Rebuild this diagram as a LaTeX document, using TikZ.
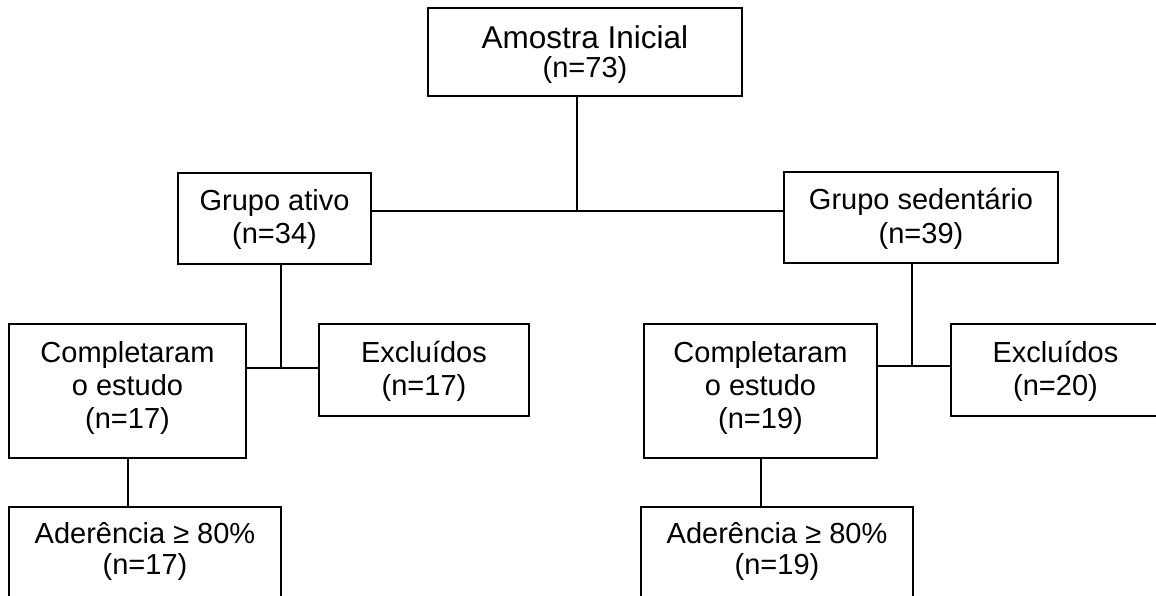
\documentclass[tikz,border=0pt]{standalone}
\usepackage{fontspec}
\setmainfont{Liberation Sans}

% caixa de texto alinhada em cima: largura, altura, texto
\newcommand{\caixatexto}[3]{\parbox[c][#2][t]{#1}{\centering\rule{0pt}{38pt}#3}}

\begin{document}
\begin{tikzpicture}[
  x=1pt, y=-1pt,
  font=\fontsize{29}{33}\selectfont,
  caixa/.style={draw, line width=2pt, inner sep=0pt, anchor=north west},
  liga/.style={line width=2pt}
]
\useasboundingbox (0,0) rectangle (1156,596);

\node[caixa] (amostra) at (427,7) {\parbox[c][88pt][t]{314pt}{\centering\fontsize{31.5}{29}\selectfont\rule{0pt}{41pt}Amostra Inicial\\\fontsize{29}{29}\selectfont(n=73)}};
\node[caixa] (ativo) at (177,172) {\caixatexto{193pt}{91pt}{Grupo ativo\\(n=34)}};
\node[caixa] (sedentario) at (783,171) {\caixatexto{274pt}{91pt}{Grupo sedentário\\(n=39)}};
\node[caixa] (complA) at (8,323) {\caixatexto{237pt}{134pt}{Completaram\\o estudo\\(n=17)}};
\node[caixa] (exclA) at (318,323) {\caixatexto{210pt}{92pt}{Excluídos\\(n=17)}};
\node[caixa] (complS) at (643,323) {\caixatexto{233pt}{134pt}{Completaram\\o estudo\\(n=19)}};
\node[caixa] (exclS) at (950,323) {\caixatexto{209pt}{92pt}{Excluídos\\(n=20)}};
\node[caixa] (aderA) at (8,506) {\parbox[c][100pt][t]{272pt}{\centering\fontsize{29}{31}\selectfont\rule{0pt}{36pt}Aderência ≥ 80\%\\(n=17)}};
\node[caixa] (aderS) at (640,506) {\parbox[c][100pt][t]{272pt}{\centering\fontsize{29}{31}\selectfont\rule{0pt}{36pt}Aderência ≥ 80\%\\(n=19)}};

% pontos de juncao
\coordinate (jtopo) at (577,211);
\coordinate (jativo) at (281,368);
\coordinate (jsed) at (912,366);

\draw[liga] (amostra.south -| jtopo) -- (jtopo);
\draw[liga] (jtopo -| ativo.east) -- (jtopo -| sedentario.west);
\draw[liga] (ativo.south -| jativo) -- (jativo);
\draw[liga] (jativo -| complA.east) -- (jativo -| exclA.west);
\draw[liga] (sedentario.south -| jsed) -- (jsed);
\draw[liga] (jsed -| complS.east) -- (jsed -| exclS.west);
\draw[liga] (complA.south) -- (complA.south |- aderA.north);
\draw[liga] (complS.south) -- (complS.south |- aderS.north);
\end{tikzpicture}
\end{document}
